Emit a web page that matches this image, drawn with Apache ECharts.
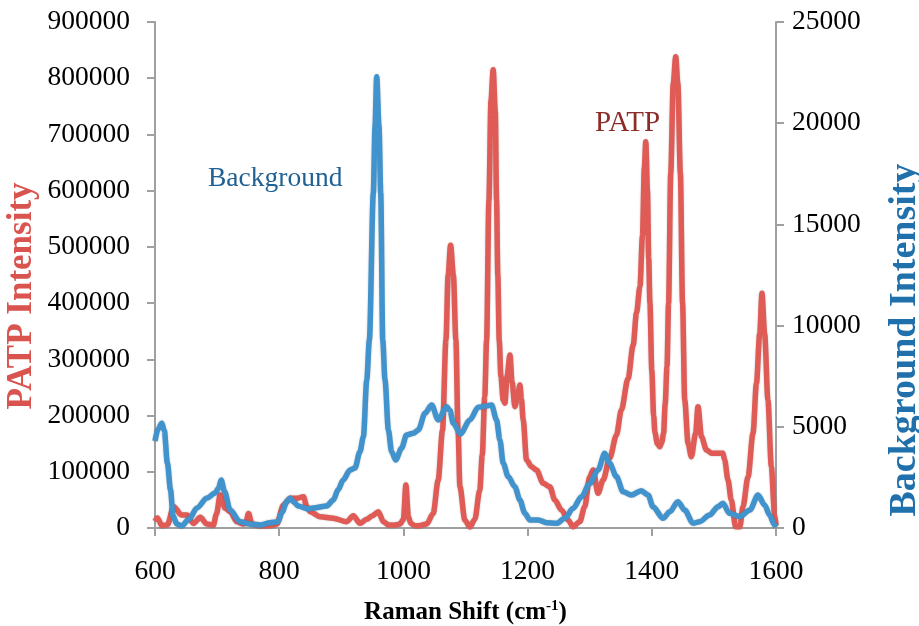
<!DOCTYPE html>
<html>
<head>
<meta charset="utf-8">
<script src="https://cdn.jsdelivr.net/npm/echarts@6/dist/echarts.min.js"></script>
<style>html,body{margin:0;padding:0;background:#fff}#c{width:919px;height:626px}</style>
</head>
<body>
<div id="c"></div>
<script>
// Raman shift ticks
const xTicks = [600, 800, 1000, 1200, 1400, 1600];
const patpTicks = [0,100000,200000,300000,400000,500000,600000,700000,800000,900000];
const bgTicks = [0,5000,10000,15000,20000,25000];

// PATP spectrum (left axis)
const patpShift = [600,604,611,620,630,643,651.5,662,673,683.6,694,699,705,713,721,732,742.5,746,750.6,756,769,785,796,807,817.6,828.4,839,844.5,849.8,866,887,908.8,919.4,930,941,950,959.7,967.7,975.7,985,994.6,1000,1004,1008,1012,1018.7,1025,1037.5,1048,1056,1063,1068.5,1072,1076,1080.5,1084.5,1088,1091,1099,1107,1115,1123,1127,1131,1134,1137.7,1141,1144.6,1148,1150,1152,1154.3,1157,1160.7,1163.5,1167,1171.5,1175,1179.5,1184,1187.6,1190,1192.9,1198.3,1206.3,1214.4,1225,1235.8,1243.9,1254.6,1265.4,1273.3,1284,1292,1300,1305.4,1313.5,1321.6,1332.4,1343,1351,1361.8,1370,1375.3,1381,1385,1388,1390.3,1393,1395,1397,1400,1403,1405,1409,1412.8,1416,1419,1421.5,1424.5,1427,1430.5,1434.5,1438.5,1442,1446,1449.5,1453,1458.4,1463.7,1470.6,1474.4,1480,1488,1496,1506.6,1514.6,1517.3,1522.7,1528,1535,1541.8,1546.8,1555,1563,1568.5,1573.8,1577.4,1581.7,1587,1592.5,1597.7,1600];
const patpIntensity = [12000,18000,4000,6000,38000,23000,23000,8000,19000,7000,5000,25000,58700,35000,29000,11000,7000,8000,26000,7000,4000,4000,7000,41000,52800,52800,55700,38000,29000,20000,17200,11200,21900,8400,15500,22000,29000,11200,5300,5000,7000,15000,76500,20000,8000,4000,4000,7000,26000,85000,174000,334000,450000,503000,450000,334000,174000,73500,14000,2000,15000,67600,130000,233600,334000,583000,760000,815000,740000,583000,450000,334000,270000,227700,222000,270000,307800,260000,215800,235000,254400,230000,192000,121000,109000,103000,79500,73500,49800,32000,14000,2300,11200,38000,91000,103000,61700,85400,125000,165000,210000,266000,325000,382000,430000,520000,640000,687000,600000,480000,400000,280000,200000,170000,150000,144600,152000,168500,220000,287000,400000,631000,790000,838000,790000,631000,400000,227700,150700,126800,168500,215800,162400,138800,133000,133000,133000,121000,85400,49800,2300,2300,38000,91000,168500,257000,346000,417500,346000,227700,109000,26000,5000];

// Background spectrum (right axis)
const bgShift = [600,605,611,615,620,625,629,635,643,655,667.5,683.6,697,702,706.6,712,721,737,753,770,785,798,805,812,817.6,823,830.5,846.6,854.6,876.6,887,895,903,914,922,930,935.6,941,945.2,951.6,954.3,957,960.7,963.5,966.7,970.4,975.8,981,987.6,997,1005,1016,1024,1034.8,1045.5,1056,1069.7,1075,1080.3,1092,1107,1120.5,1134,1142,1150,1155.4,1160.7,1168.8,1179.5,1187.6,1195.6,1203.7,1217,1230.5,1246.6,1260,1273.3,1286.8,1300,1313.5,1324.3,1332,1343,1353.8,1367,1383,1394,1402,1418,1429,1442,1453,1466.4,1477,1493,1506.6,1514.6,1525,1541.8,1558,1571,1581.7,1589.6,1597.7,1600];
const bgIntensity = [4300,4900,5180,4800,3200,1880,600,200,100,450,990,1480,1730,1950,2370,1800,890,310,200,150,260,310,800,1300,1470,1300,1090,940,990,1090,1380,1900,2370,2870,2960,3770,4510,7310,9290,16550,19830,22290,19830,16550,9290,7310,4840,3770,3360,3940,4590,4680,4840,5670,6080,5340,5990,5800,5170,4650,5340,5960,6030,6080,5340,4350,3200,2540,2040,1380,726,395,395,262,232,480,973,1550,2200,2870,3690,3200,2540,1790,1630,1840,1630,1050,480,800,1300,890,232,310,640,1050,1220,726,560,890,1630,1140,640,150,50];

const FONT = 'Liberation Serif';
const zip = (a, b) => a.map((v, i) => [v, b[i]]);
const plain = v => String(v);

const chart = echarts.init(document.getElementById('c'), null, {renderer: 'canvas'});
const axisLine = {show: true, lineStyle: {color: '#a0a0a0', width: 2}};
const axisTick = {show: true, inside: false, length: 8, lineStyle: {color: '#a0a0a0', width: 2}};
const labelStyle = {color: '#000', fontFamily: FONT, fontSize: 27.5, formatter: plain};

chart.setOption({
  backgroundColor: '#ffffff',
  animation: false,
  grid: {left: 155, right: 143, top: 22, bottom: 98, containLabel: false, outerBoundsMode: 'none'},
  xAxis: {
    type: 'value', min: xTicks[0], max: xTicks[xTicks.length - 1], interval: xTicks[1] - xTicks[0],
    axisLine, axisTick, splitLine: {show: false},
    axisLabel: Object.assign({}, labelStyle, {margin: 30}),
    name: '{a|Raman Shift (cm}{s|-1}{a|)}',
    nameLocation: 'middle', nameGap: 71,
    nameTextStyle: {
      rich: {
        a: {fontFamily: FONT, fontSize: 25, fontWeight: 'bold', color: '#000'},
        s: {fontFamily: FONT, fontSize: 15, fontWeight: 'bold', color: '#000', padding: [0, 0, 12, 0]}
      }
    }
  },
  yAxis: [
    {
      type: 'value', position: 'left', min: patpTicks[0], max: patpTicks[patpTicks.length - 1],
      interval: patpTicks[1] - patpTicks[0],
      axisLine, axisTick, splitLine: {show: false},
      axisLabel: Object.assign({}, labelStyle, {margin: 25})
    },
    {
      type: 'value', position: 'right', min: bgTicks[0], max: bgTicks[bgTicks.length - 1],
      interval: bgTicks[1] - bgTicks[0],
      axisLine, axisTick, splitLine: {show: false},
      axisLabel: Object.assign({}, labelStyle, {margin: 16})
    }
  ],
  graphic: [
    {type: 'text', x: 22, y: 296, rotation: Math.PI / 2,
     style: {text: 'PATP Intensity', font: 'bold 35px "Liberation Serif"', fill: '#D9534F', align: 'center', verticalAlign: 'middle'}},
    {type: 'text', x: 905, y: 340, rotation: Math.PI / 2,
     style: {text: 'Background Intensity', font: 'bold 38px "Liberation Serif"', fill: '#2070AC', align: 'center', verticalAlign: 'middle'}},
    {type: 'text', left: 208, top: 165, style: {text: 'Background', font: '27.5px "Liberation Serif"', fill: '#1F6194'}},
    {type: 'text', left: 595, top: 109, style: {text: 'PATP', font: '29px "Liberation Serif"', fill: '#8C2C28'}}
  ],
  series: [
    {
      name: 'PATP', type: 'line', yAxisIndex: 0, data: zip(patpShift, patpIntensity),
      showSymbol: false, smooth: 0.3, smoothMonotone: 'x',
      lineStyle: {color: '#E05B55', width: 5.5, shadowColor: 'rgba(0,0,0,0.25)', shadowBlur: 2}
    },
    {
      name: 'Background', type: 'line', yAxisIndex: 1, data: zip(bgShift, bgIntensity),
      showSymbol: false, smooth: 0.3, smoothMonotone: 'x',
      lineStyle: {color: '#4193CE', width: 5.5, shadowColor: 'rgba(0,0,0,0.25)', shadowBlur: 2}
    }
  ]
});
</script>
</body>
</html>
